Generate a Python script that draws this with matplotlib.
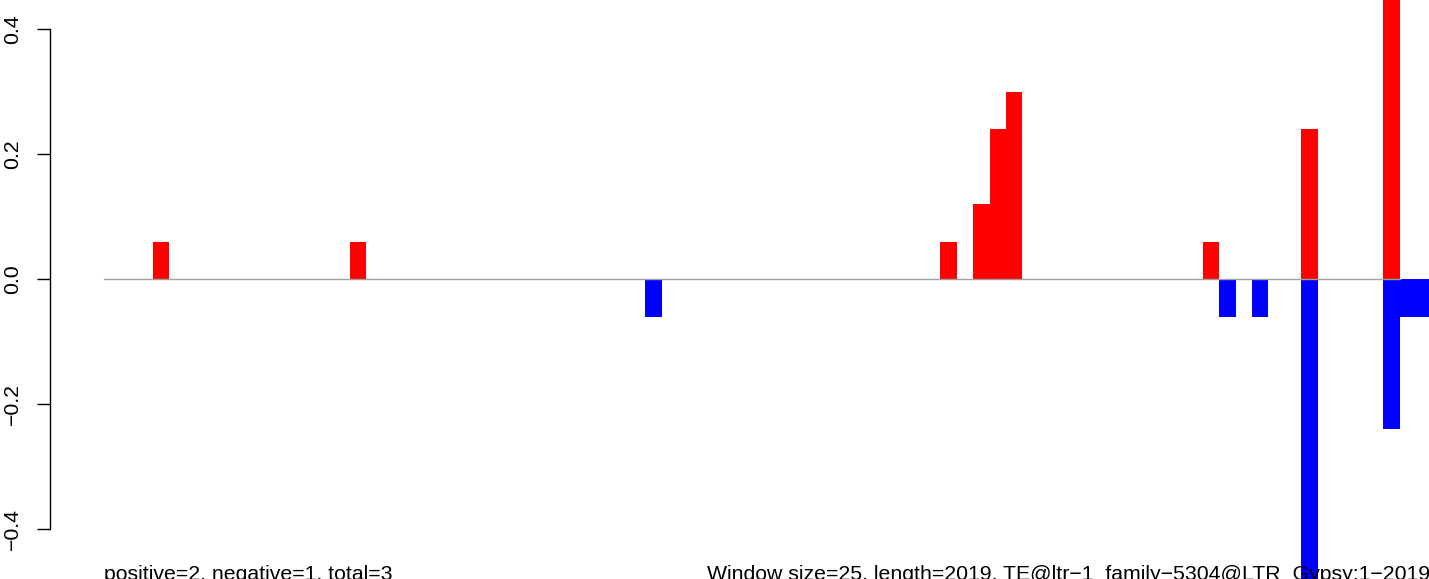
import matplotlib
matplotlib.use('Agg')
from matplotlib import pyplot as plt
import numpy as np

plt.rcParams['font.family'] = ['Liberation Sans', 'DejaVu Sans']

n_win = 81
# window index -> value
pos_idx = [3, 15, 51, 53, 54, 55, 67, 73, 78]
pos_val = [0.06, 0.06, 0.06, 0.12, 0.24, 0.30, 0.06, 0.24, 0.54]
neg_idx = [33, 68, 70, 73, 78, 79, 80]
neg_val = [-0.06, -0.06, -0.06, -0.54, -0.24, -0.06, -0.06]

yticks = [-0.4, -0.2, 0.0, 0.2, 0.4]
left_note = 'positive=2, negative=1, total=3'
right_note = 'Window size=25, length=2019, TE@ltr\u22121_family\u22125304@LTR_Gypsy:1\u22122019'

W, H = 1429, 579
fig = plt.figure(figsize=(W / 100, H / 100), dpi=100)
ax = fig.add_axes([50 / W, 0, 1 - 50 / W, 1])

# pixel mapping: bar 0 starts at x=103.8, bar width 16.404 px
bw = 16.404
x0 = 103.8
ax.set_xlim((50 - x0) / bw, (W - x0) / bw)
ax.set_ylim(-300 / 625, 279 / 625)

ax.bar(pos_idx, pos_val, width=1, align='edge', color='#FF0000', linewidth=0)
ax.bar(neg_idx, neg_val, width=1, align='edge', color='#0000FF', linewidth=0)
ax.plot([0, n_win - 2], [0, 0], color='#A0A0A0', lw=1)

for s in ['top', 'right', 'bottom']:
    ax.spines[s].set_visible(False)
ax.spines['left'].set_bounds(-0.4, 0.4)
ax.spines['left'].set_linewidth(1.0)
ax.set_xticks([])
ax.set_yticks(yticks)
ax.set_yticklabels(['\u22120.4', '\u22120.2', '0.0', '0.2', '0.4'],
                   rotation=90, va='center', fontsize=15.3)
ax.tick_params(axis='y', length=9.4, width=1.0, pad=11)

fig.text(104 / W, -1 / H, left_note, fontsize=15.3, ha='left', va='baseline')
fig.text(707 / W, -1 / H, right_note, fontsize=15.3, ha='left', va='baseline')

fig.savefig('out.png', dpi=100)
